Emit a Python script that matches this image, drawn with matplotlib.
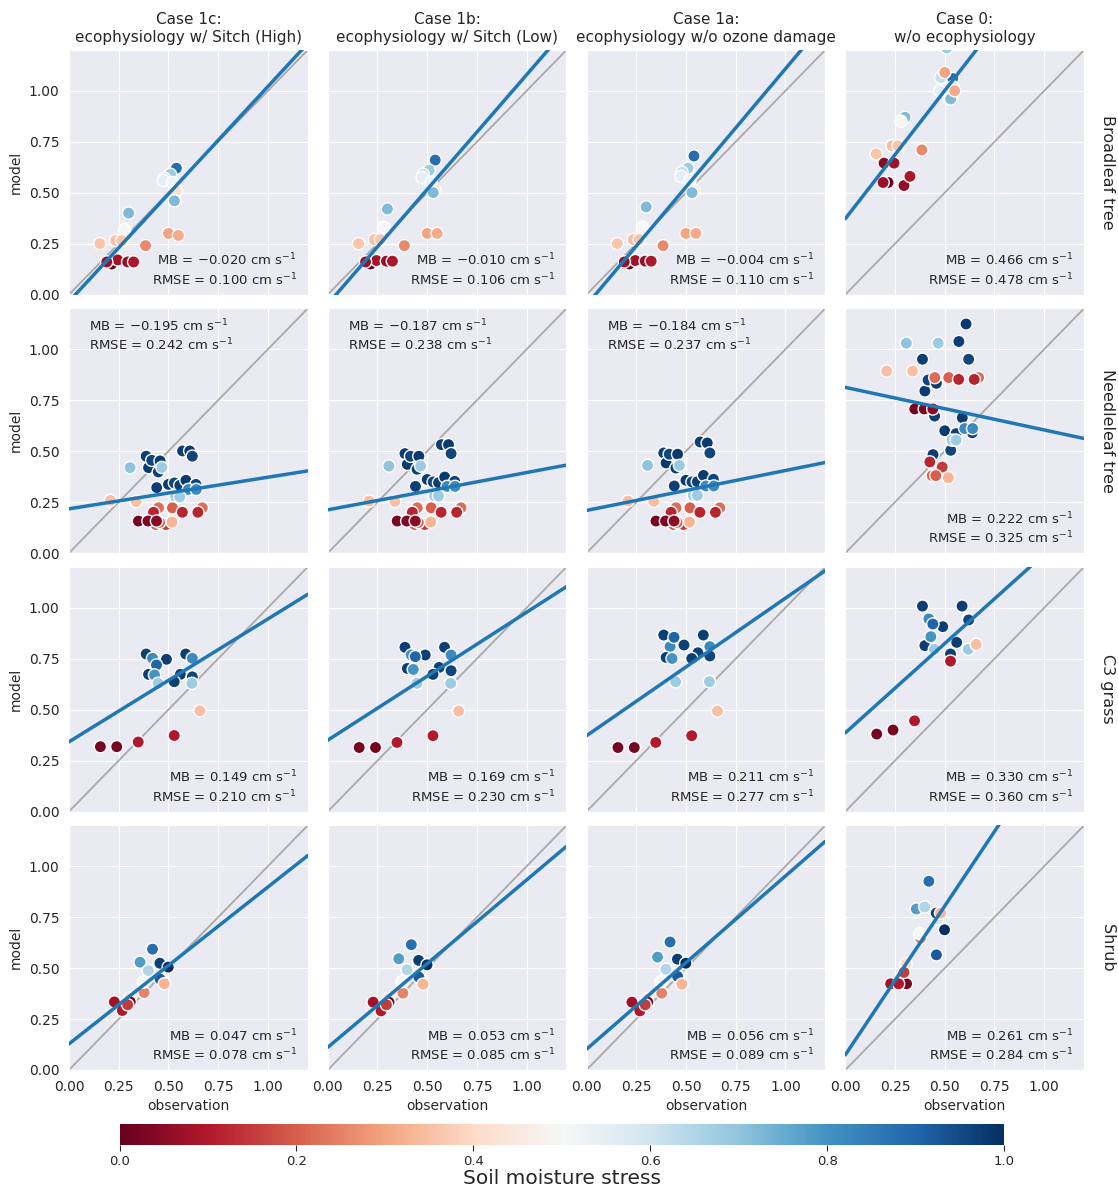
import numpy as np
import matplotlib.pyplot as plt
import seaborn as sns
from matplotlib.ticker import FormatStrFormatter

sns.set_style('darkgrid')

cases = ['Case 1c:\necophysiology w/ Sitch (High)',
         'Case 1b:\necophysiology w/ Sitch (Low)',
         'Case 1a:\necophysiology w/o ozone damage',
         'Case 0:\nw/o ecophysiology']
pfts = ['Broadleaf tree', 'Needleleaf tree', 'C3 grass', 'Shrub']

# Broadleaf tree
bl_obs = [0.54, 0.51, 0.48, 0.475, 0.52, 0.54, 0.53, 0.30, 0.28, 0.155, 0.235, 0.265,
          0.50, 0.55, 0.385, 0.195, 0.215, 0.245, 0.295, 0.325, 0.19]
bl_stress = [0.88, 0.68, 0.62, 0.55, 0.52, 0.42, 0.72, 0.72, 0.50, 0.36, 0.35, 0.36,
             0.30, 0.31, 0.26, 0.05, 0.0, 0.08, 0.06, 0.09, 0.07]
bl_1c = [0.62, 0.59, 0.57, 0.56, 0.55, 0.51, 0.46, 0.40, 0.32, 0.25, 0.265, 0.265,
         0.30, 0.29, 0.24, 0.16, 0.15, 0.17, 0.16, 0.16, 0.16]
bl_1b = [0.66, 0.61, 0.59, 0.575, 0.55, 0.51, 0.50, 0.42, 0.33, 0.25, 0.27, 0.27,
         0.30, 0.30, 0.24, 0.16, 0.15, 0.167, 0.164, 0.164, 0.16]
bl_1a = [0.68, 0.62, 0.60, 0.58, 0.56, 0.51, 0.50, 0.43, 0.33, 0.25, 0.27, 0.27,
         0.30, 0.30, 0.24, 0.15, 0.15, 0.167, 0.164, 0.164, 0.16]
bl_0 = [1.06, 1.21, 1.065, 1.00, 0.96, 1.02, 0.96, 0.87, 0.85, 0.69, 0.73, 0.73,
        1.09, 1.00, 0.71, 0.645, 0.55, 0.645, 0.535, 0.58, 0.55]

# Needleleaf tree
nl_obs = [0.388, 0.40, 0.416, 0.449, 0.458, 0.571, 0.607, 0.62, 0.441, 0.50, 0.53, 0.557, 0.588, 0.638,
          0.60, 0.64, 0.537, 0.557, 0.307, 0.467, 0.208, 0.338,
          0.45, 0.425, 0.52, 0.57, 0.67, 0.648, 0.437, 0.487, 0.455, 0.518,
          0.349, 0.397, 0.44]
nl_stress = [0.97, 0.98, 0.96, 0.97, 0.98, 0.97, 0.98, 0.96, 0.97, 0.98, 0.96, 0.97, 0.98, 0.96,
             0.82, 0.82, 0.68, 0.68, 0.70, 0.68, 0.35, 0.35,
             0.22, 0.12, 0.20, 0.12, 0.22, 0.12, 0.20, 0.15, 0.20, 0.33,
             0.02, 0.03, 0.05]
nl_1c = [0.475, 0.419, 0.455, 0.398, 0.452, 0.501, 0.501, 0.475, 0.321, 0.337, 0.344, 0.332, 0.357, 0.337,
         0.312, 0.312, 0.275, 0.275, 0.419, 0.42, 0.258, 0.253,
         0.222, 0.20, 0.222, 0.20, 0.222, 0.20, 0.14, 0.14, 0.15, 0.152,
         0.157, 0.157, 0.157]
nl_1b = [0.488, 0.435, 0.475, 0.411, 0.475, 0.532, 0.532, 0.488, 0.327, 0.361, 0.349, 0.345, 0.373, 0.352,
         0.327, 0.327, 0.28, 0.28, 0.427, 0.427, 0.255, 0.253,
         0.222, 0.20, 0.222, 0.20, 0.222, 0.20, 0.14, 0.14, 0.15, 0.152,
         0.157, 0.157, 0.157]
nl_1a = [0.491, 0.442, 0.485, 0.417, 0.485, 0.545, 0.54, 0.491, 0.329, 0.357, 0.349, 0.35, 0.381, 0.362,
         0.329, 0.329, 0.283, 0.283, 0.43, 0.43, 0.255, 0.253,
         0.222, 0.20, 0.222, 0.20, 0.222, 0.20, 0.14, 0.14, 0.15, 0.152,
         0.157, 0.157, 0.157]
nl_0 = [0.951, 0.795, 0.849, 0.672, 0.833, 1.038, 1.124, 0.951, 0.483, 0.60, 0.504, 0.586, 0.664, 0.59,
        0.611, 0.611, 0.554, 0.554, 1.03, 1.03, 0.893, 0.893,
        0.861, 0.447, 0.861, 0.852, 0.861, 0.852, 0.38, 0.422, 0.38, 0.37,
        0.707, 0.707, 0.707]

# C3 grass
c3_obs = [0.388, 0.587, 0.42, 0.62, 0.49, 0.44, 0.40, 0.43, 0.56, 0.529, 0.62, 0.448, 0.618,
          0.658, 0.529, 0.348, 0.158, 0.24]
c3_stress = [0.97, 0.97, 0.82, 0.82, 0.97, 0.90, 0.97, 0.80, 0.97, 0.97, 0.96, 0.68, 0.68,
             0.35, 0.10, 0.10, 0.02, 0.02]
c3_1c = [0.773, 0.773, 0.752, 0.752, 0.747, 0.719, 0.673, 0.67, 0.673, 0.637, 0.661, 0.629, 0.629,
         0.494, 0.373, 0.341, 0.318, 0.318]
c3_1b = [0.806, 0.806, 0.768, 0.768, 0.768, 0.76, 0.702, 0.697, 0.707, 0.673, 0.691, 0.629, 0.629,
         0.493, 0.372, 0.339, 0.314, 0.314]
c3_1a = [0.866, 0.866, 0.809, 0.809, 0.817, 0.855, 0.756, 0.751, 0.779, 0.751, 0.763, 0.637, 0.637,
         0.493, 0.372, 0.339, 0.314, 0.314]
c3_0 = [1.008, 1.008, 0.945, 0.945, 0.907, 0.92, 0.814, 0.858, 0.83, 0.773, 0.94, 0.796, 0.796,
        0.82, 0.738, 0.445, 0.38, 0.40]

# Shrub
sh_obs = [0.462, 0.378, 0.42, 0.357, 0.457, 0.499, 0.399, 0.458, 0.374, 0.479, 0.305,
          0.228, 0.308, 0.268, 0.295]
sh_stress = [0.60, 0.25, 0.88, 0.78, 0.97, 1.0, 0.65, 0.92, 0.50, 0.33, 0.40,
             0.08, 0.02, 0.10, 0.15]
sh_1c = [0.45, 0.38, 0.593, 0.529, 0.524, 0.505, 0.488, 0.446, 0.431, 0.423, 0.352,
         0.334, 0.334, 0.292, 0.32]
sh_1b = [0.46, 0.377, 0.615, 0.546, 0.538, 0.516, 0.492, 0.456, 0.434, 0.421, 0.35,
         0.333, 0.333, 0.29, 0.32]
sh_1a = [0.46, 0.377, 0.628, 0.554, 0.544, 0.524, 0.495, 0.459, 0.434, 0.421, 0.35,
         0.333, 0.333, 0.29, 0.32]
sh_0 = [0.741, 0.647, 0.926, 0.79, 0.77, 0.688, 0.80, 0.565, 0.669, 0.77, 0.521,
        0.423, 0.423, 0.423, 0.479]

# regression lines (intercept, slope), columns 1c, 1b, 1a, 0
fit_intercept = [[-0.034, -0.047, -0.052, 0.372],
                 [0.217, 0.212, 0.209, 0.813],
                 [0.342, 0.350, 0.372, 0.386],
                 [0.128, 0.111, 0.102, 0.074]]
fit_slope = [[1.055, 1.126, 1.16, 1.258],
             [0.155, 0.183, 0.196, -0.209],
             [0.603, 0.628, 0.675, 0.877],
             [0.77, 0.822, 0.85, 1.462]]

mb = [[-0.020, -0.010, -0.004, 0.466],
      [-0.195, -0.187, -0.184, 0.222],
      [0.149, 0.169, 0.211, 0.330],
      [0.047, 0.053, 0.056, 0.261]]
rmse = [[0.100, 0.106, 0.110, 0.478],
        [0.242, 0.238, 0.237, 0.325],
        [0.210, 0.230, 0.277, 0.360],
        [0.078, 0.085, 0.089, 0.284]]

obs_all = [bl_obs, nl_obs, c3_obs, sh_obs]
stress_all = [bl_stress, nl_stress, c3_stress, sh_stress]
model_all = [[bl_1c, bl_1b, bl_1a, bl_0],
             [nl_1c, nl_1b, nl_1a, nl_0],
             [c3_1c, c3_1b, c3_1a, c3_0],
             [sh_1c, sh_1b, sh_1a, sh_0]]


def fmt(v):
    return f'{v:.3f}'.replace('-', '\u2212')


fig, axes = plt.subplots(4, 4, figsize=(11.18, 11.91), dpi=100, sharex=True, sharey=True)
fig.subplots_adjust(left=0.0617, right=0.9696, top=0.958, bottom=0.1016,
                    wspace=0.084, hspace=0.057)

xx = np.array([0.0, 1.2])
for i in range(4):
    for j in range(4):
        ax = axes[i, j]
        ax.plot(xx, xx, color='darkgray', lw=1.3, zorder=2)
        sc = ax.scatter(obs_all[i], model_all[i][j], c=stress_all[i], cmap='RdBu',
                        vmin=0, vmax=1, s=78, edgecolors='white', linewidths=1, zorder=3)
        ax.plot(xx, fit_intercept[i][j] + fit_slope[i][j] * xx, color='#1f77b4', lw=2.5, zorder=4)
        ax.set_xlim(0, 1.2)
        ax.set_ylim(0, 1.2)
        ax.set_xticks([0, 0.25, 0.5, 0.75, 1.0])
        ax.set_yticks([0, 0.25, 0.5, 0.75, 1.0])
        ax.xaxis.set_major_formatter(FormatStrFormatter('%.2f'))
        ax.yaxis.set_major_formatter(FormatStrFormatter('%.2f'))
        ax.tick_params(labelsize=10)

        s1 = f'MB = {fmt(mb[i][j])} cm s$^{{-1}}$'
        s2 = f'RMSE = {fmt(rmse[i][j])} cm s$^{{-1}}$'
        if i == 1 and j < 3:
            ax.text(0.084, 0.93, s1, transform=ax.transAxes, ha='left', va='center', fontsize=9.5)
            ax.text(0.084, 0.85, s2, transform=ax.transAxes, ha='left', va='center', fontsize=9.5)
        else:
            ax.text(0.955, 0.14, s1, transform=ax.transAxes, ha='right', va='center', fontsize=9.5)
            ax.text(0.955, 0.06, s2, transform=ax.transAxes, ha='right', va='center', fontsize=9.5)

        if i == 0:
            ax.set_title(cases[j], fontsize=11)
        if j == 0:
            ax.set_ylabel('model', fontsize=10)
        if i == 3:
            ax.set_xlabel('observation', fontsize=10)
        if j == 3:
            ax.text(1.10, 0.5, pfts[i], transform=ax.transAxes, rotation=270,
                    ha='center', va='center', fontsize=11.5)

cax = fig.add_axes([0.107, 0.0386, 0.791, 0.0176])
cb = fig.colorbar(sc, cax=cax, orientation='horizontal')
cb.outline.set_visible(False)
cb.set_ticks([0.0, 0.2, 0.4, 0.6, 0.8, 1.0])
cax.tick_params(length=4, width=0.8, color='0.15', labelsize=9.5, pad=3)
cb.set_label('Soil moisture stress', fontsize=14.5, labelpad=1)

fig.savefig('out.png', dpi=100)
